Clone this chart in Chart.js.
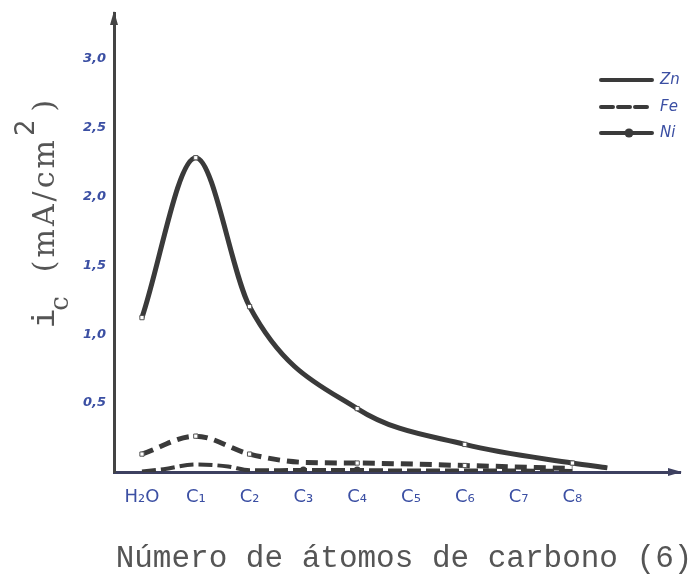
<!DOCTYPE html>
<html>
<head>
<meta charset="utf-8">
<script src="https://cdn.jsdelivr.net/npm/chart.js@4/dist/chart.umd.min.js"></script>
<style>
  html, body { margin: 0; padding: 0; background: #ffffff; }
  #wrap { width: 695px; height: 577px; }
</style>
</head>
<body>
<div id="wrap"><canvas id="c" width="695" height="577"></canvas></div>
<script>
// Categories along the x axis (number of carbon atoms)
const categories = ['H₂O', 'C₁', 'C₂', 'C₃', 'C₄', 'C₅', 'C₆', 'C₇', 'C₈'];

// Y axis tick values and their labels
const yTickValues = [0.5, 1.0, 1.5, 2.0, 2.5, 3.0];
const yTickLabels = ['0,5', '1,0', '1,5', '2,0', '2,5', '3,0'];

// Current density i_c (mA/cm²) per metal; x is the category index
const znX = [0, 1, 2, 4, 6, 8, 8.65];
const znY = [1.12, 2.28, 1.20, 0.46, 0.20, 0.065, 0.03];
const znMarked = [true, true, true, true, true, true, false];

const feX = [0, 1, 2, 3, 4, 6, 8];
const feY = [0.13, 0.26, 0.13, 0.07, 0.065, 0.047, 0.025];
const feMarked = [true, true, true, false, true, true, false];

const niX = [0, 0.4, 1, 1.6, 2, 3, 4, 5, 6, 7, 8];
const niY = [0.004, 0.02, 0.055, 0.04, 0.012, 0.014, 0.014, 0.01, 0.01, 0.01, 0.008];
const niDot = [false, false, false, false, false, true, true, false, false, false, false];

// Legend entries
const legendNames = ['Zn', 'Fe', 'Ni'];

const INK = '#3a3a3a';
const BLUE = '#3b4fa3';

function pts(xs, ys) { return xs.map((x, i) => ({ x: x, y: ys[i] })); }

// Axis arrows, axis titles and the hand-drawn style legend
const decorations = {
  id: 'decorations',
  afterDraw(chart) {
    const ctx = chart.ctx;
    const a = chart.chartArea;
    ctx.save();

    // arrow heads
    ctx.fillStyle = '#444444';
    ctx.beginPath();
    ctx.moveTo(a.left, a.top - 2);
    ctx.lineTo(a.left - 4, a.top + 12);
    ctx.lineTo(a.left + 4, a.top + 12);
    ctx.closePath();
    ctx.fill();
    ctx.fillStyle = '#3d4060';
    ctx.beginPath();
    ctx.moveTo(a.right + 2, a.bottom);
    ctx.lineTo(a.right - 12, a.bottom - 4);
    ctx.lineTo(a.right - 12, a.bottom + 4);
    ctx.closePath();
    ctx.fill();

    // x axis title
    ctx.fillStyle = '#555555';
    ctx.font = '31px "Liberation Mono", "DejaVu Sans Mono", monospace';
    ctx.textAlign = 'center';
    ctx.textBaseline = 'alphabetic';
    ctx.fillText('Número de átomos de carbono (6)', 404, 567);

    // y axis title: i_c (mA/cm²)
    ctx.translate(54, 328);
    ctx.rotate(-Math.PI / 2);
    ctx.textAlign = 'left';
    let x = 0;
    ctx.font = '32px "Liberation Mono", monospace';
    ctx.fillText('i', x, 0);
    x += ctx.measureText('i').width - 2;
    ctx.font = '26px "DejaVu Serif", serif';
    ctx.fillText('c', x, 14);
    x += ctx.measureText('c').width + 24;
    ctx.font = '30px "DejaVu Serif", serif';
    ctx.letterSpacing = '3px';
    ctx.fillText('(mA/cm', x, 0);
    x += ctx.measureText('(mA/cm').width + 1;
    ctx.letterSpacing = '0px';
    ctx.font = '26px "DejaVu Sans", sans-serif';
    ctx.fillText('2', x, -20);
    x += ctx.measureText('2').width + 8;
    ctx.font = '30px "DejaVu Serif", serif';
    ctx.fillText(')', x, 0);
    ctx.setTransform(1, 0, 0, 1, 0, 0);

    // legend
    const rows = [80, 107, 133];
    ctx.strokeStyle = INK;
    ctx.lineCap = 'round';
    ctx.lineWidth = 4;
    ctx.setLineDash([]);
    ctx.beginPath(); ctx.moveTo(601, rows[0]); ctx.lineTo(652, rows[0]); ctx.stroke();
    ctx.setLineDash([12, 5]);
    ctx.beginPath(); ctx.moveTo(601, rows[1]); ctx.lineTo(652, rows[1]); ctx.stroke();
    ctx.setLineDash([]);
    ctx.beginPath(); ctx.moveTo(601, rows[2]); ctx.lineTo(652, rows[2]); ctx.stroke();
    ctx.fillStyle = INK;
    ctx.beginPath(); ctx.arc(629, rows[2], 4.5, 0, Math.PI * 2); ctx.fill();
    ctx.fillStyle = BLUE;
    ctx.font = 'italic 15px "DejaVu Sans", sans-serif';
    ctx.textBaseline = 'middle';
    ctx.fillText(legendNames[0], 660, rows[0]);
    ctx.fillText(legendNames[1], 660, rows[1]);
    ctx.fillText(legendNames[2], 660, rows[2]);
    ctx.restore();
  }
};

new Chart(document.getElementById('c'), {
  type: 'line',
  data: {
    datasets: [
      {
        label: legendNames[2],
        data: pts(niX, niY),
        borderColor: INK,
        borderWidth: 4,
        borderDash: [14, 5],
        cubicInterpolationMode: 'monotone',
        pointStyle: 'circle',
        pointRadius: niDot.map(d => d ? 3.5 : 0),
        pointBackgroundColor: INK,
        pointBorderWidth: 0
      },
      {
        label: legendNames[1],
        data: pts(feX, feY),
        borderColor: INK,
        borderWidth: 5,
        borderDash: [12, 7],
        cubicInterpolationMode: 'monotone',
        pointStyle: 'rect',
        pointRadius: feMarked.map(m => m ? 3 : 0),
        pointBackgroundColor: '#ffffff',
        pointBorderColor: '#555555',
        pointBorderWidth: 1
      },
      {
        label: legendNames[0],
        data: pts(znX, znY),
        borderColor: INK,
        borderWidth: 5,
        cubicInterpolationMode: 'monotone',
        pointStyle: 'rect',
        pointRadius: znMarked.map(m => m ? 3 : 0),
        pointBackgroundColor: '#ffffff',
        pointBorderColor: '#555555',
        pointBorderWidth: 1
      }
    ]
  },
  options: {
    responsive: false,
    animation: false,
    layout: { padding: { top: 13, right: 15, left: 0, bottom: 0 } },
    plugins: {
      legend: { display: false },
      tooltip: { enabled: false }
    },
    scales: {
      x: {
        type: 'linear',
        min: -0.52,
        max: 10,
        grid: { display: false },
        border: { display: true, color: '#3d4060', width: 3 },
        afterBuildTicks: s => { s.ticks = categories.map((_, i) => ({ value: i })); },
        afterFit: s => { s.height = 105; },
        ticks: {
          padding: 7,
          color: BLUE,
          font: { family: '"DejaVu Sans", sans-serif', size: 18 },
          callback: v => categories[v]
        }
      },
      y: {
        min: 0,
        max: 3.33,
        grid: { display: false },
        border: { display: true, color: '#444444', width: 3 },
        afterBuildTicks: s => { s.ticks = yTickValues.map(v => ({ value: v })); },
        afterFit: s => { s.width = 114; },
        ticks: {
          padding: 0,
          color: BLUE,
          font: { family: '"DejaVu Sans", sans-serif', size: 13, style: 'italic', weight: 'bold' },
          callback: v => yTickLabels[yTickValues.indexOf(v)]
        }
      }
    }
  },
  plugins: [decorations]
});
</script>
</body>
</html>
